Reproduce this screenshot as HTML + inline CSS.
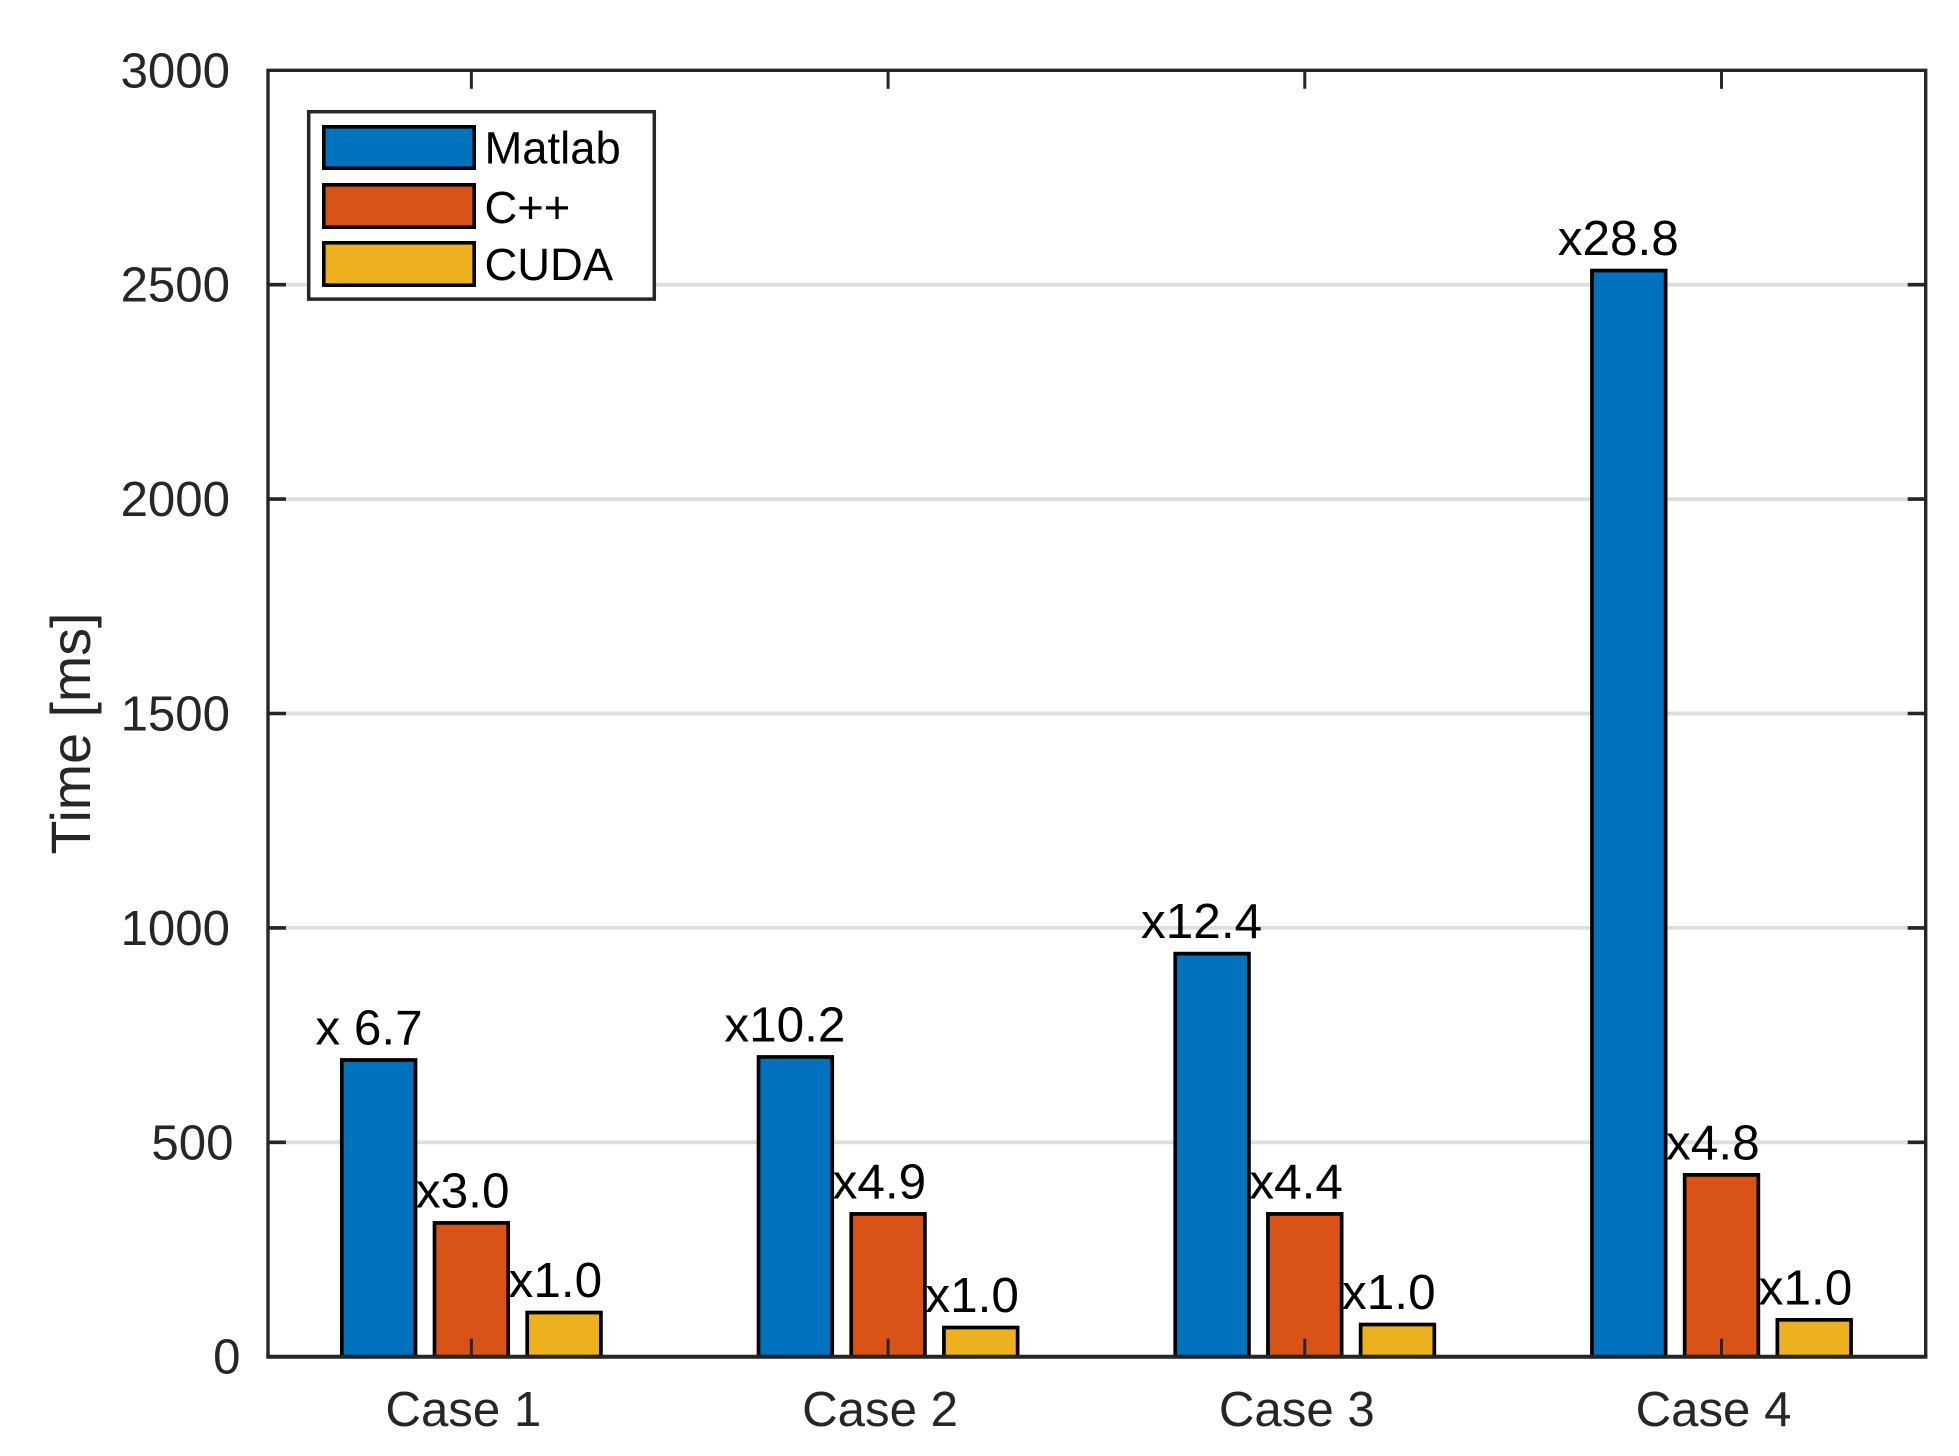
<!DOCTYPE html>
<html lang="en">
<head>
<meta charset="utf-8">
<title>Time by case</title>
<style>
html,body{margin:0;padding:0;background:#fff;}
svg{display:block;font-family:"Liberation Sans",Arial,sans-serif;}
</style>
</head>
<body>
<svg id="chart" xmlns="http://www.w3.org/2000/svg" width="1959" height="1456" viewBox="0 0 1959 1456">
  <rect x="0" y="0" width="1959" height="1456" fill="#ffffff"/>
  <g id="grid"></g>
  <g id="bars"></g>
  <g id="axes"></g>
  <g id="labels"></g>
  <text transform="translate(90 733.5) rotate(-90)" text-anchor="middle" font-size="55.6" fill="#262626">Time [ms]</text>
  <g>
    <rect x="308.7" y="111.7" width="345.6" height="187.4" fill="#ffffff" stroke="#262626" stroke-width="3.5"/>
    <rect x="323.8" y="126.8" width="150.4" height="41.4" fill="#0072BD" stroke="#000" stroke-width="3.6"/>
    <text x="484.5" y="163.3" font-size="45.4" fill="#000">Matlab</text>
    <rect x="323.8" y="184.8" width="150.4" height="42.4" fill="#D95319" stroke="#000" stroke-width="3.6"/>
    <text x="484.5" y="222.8" font-size="45.4" fill="#000">C++</text>
    <rect x="323.8" y="242.8" width="150.4" height="42.4" fill="#EDB120" stroke="#000" stroke-width="3.6"/>
    <text x="484.5" y="280" font-size="45.4" fill="#000">CUDA</text>
  </g>
</svg>
<script>
const categories = ["Case 1", "Case 2", "Case 3", "Case 4"];
const matlabValues = [692, 699, 940, 2533];
const cppValues = [312, 333, 333, 424];
const cudaValues = [103, 68, 75, 86];
const matlabLabels = ["x 6.7", "x10.2", "x12.4", "x28.8"];
const cppLabels = ["x3.0", "x4.9", "x4.4", "x4.8"];
const cudaLabels = ["x1.0", "x1.0", "x1.0", "x1.0"];
const yTicks = [0, 500, 1000, 1500, 2000, 2500, 3000];

const NS = "http://www.w3.org/2000/svg";
const plot = { left: 268, right: 1925.7, top: 70.3, bottom: 1356.7 };
const xDomain = [0.512, 4.49];
const yDomain = [0, 3000];
const ink = "#262626";

function xScale(position) {
  return plot.left + (position - xDomain[0]) / (xDomain[1] - xDomain[0]) * (plot.right - plot.left);
}
function yScale(value) {
  return plot.bottom - (value - yDomain[0]) / (yDomain[1] - yDomain[0]) * (plot.bottom - plot.top);
}
function make(parent, tag, props) {
  const el = document.createElementNS(NS, tag);
  for (const key in props) el.setAttribute(key, props[key]);
  parent.appendChild(el);
  return el;
}

const gridLayer = document.getElementById("grid");
const barLayer = document.getElementById("bars");
const axisLayer = document.getElementById("axes");
const labelLayer = document.getElementById("labels");

yTicks.forEach(function (tick) {
  if (tick === yDomain[0] || tick === yDomain[1]) return;
  const line = make(gridLayer, "line", { x1: plot.left, x2: plot.right, y1: yScale(tick), y2: yScale(tick), stroke: "#dedede", "stroke-width": 3.8 });
  
  
});

const seriesList = [
  { key: "matlab", values: matlabValues, labels: matlabLabels, color: "#0072BD", offset: -92.7 },
  { key: "cpp", values: cppValues, labels: cppLabels, color: "#D95319", offset: 0 },
  { key: "cuda", values: cudaValues, labels: cudaLabels, color: "#EDB120", offset: 92.7 }
];
const barWidth = 73.7;

seriesList.forEach(function (series) {
  series.values.forEach(function (value, i) {
    const cx = xScale(i + 1) + series.offset;
    const top = yScale(value);
    const bar = make(barLayer, "rect", { x: cx - barWidth / 2, y: top, width: barWidth, height: yScale(0) - top, fill: series.color, stroke: "#000", "stroke-width": 3.7 });
    
    

    const label = make(labelLayer, "text", { x: cx, y: top - 15.4, "font-size": 49.5, fill: "#000" });
    label.textContent = series.labels[i];
    
    
    const w = label.getComputedTextLength();
    label.setAttribute("x", cx - 2.4 - 0.567 * w);
  });
});

const frame = make(axisLayer, "path", {
  d: "M" + plot.left + " " + plot.bottom + "V" + plot.top + "H" + plot.right + "V" + plot.bottom,
  fill: "none", stroke: ink, "stroke-width": 3.4
});



const xAxisLine = make(axisLayer, "line", { x1: plot.left - 1.7, x2: plot.right + 1.7, y1: plot.bottom, y2: plot.bottom, stroke: ink, "stroke-width": 4 });



categories.forEach(function (name, i) {
  const x = xScale(i + 1);
  const bottomTick = make(axisLayer, "line", { x1: x, x2: x, y1: plot.bottom, y2: plot.bottom - 18, stroke: ink, "stroke-width": 3 });
  
  
  const topTick = make(axisLayer, "line", { x1: x, x2: x, y1: plot.top, y2: plot.top + 18.5, stroke: ink, "stroke-width": 3 });
  
  
  const text = make(axisLayer, "text", { x: x - 8, y: 1426, "text-anchor": "middle", "font-size": 49.2, fill: ink });
  text.textContent = name;
  
  
});

yTicks.forEach(function (tick) {
  const y = yScale(tick);
  if (tick !== yDomain[0] && tick !== yDomain[1]) {
    const leftTick = make(axisLayer, "line", { x1: plot.left, x2: plot.left + 18, y1: y, y2: y, stroke: ink, "stroke-width": 3.6 });
    
    
    const rightTick = make(axisLayer, "line", { x1: plot.right, x2: plot.right - 18, y1: y, y2: y, stroke: ink, "stroke-width": 3.6 });
    
    
  }
  const str = String(tick);
  const text = make(axisLayer, "text", { x: 244 - 3.5 * str.length, y: y + 17, "text-anchor": "end", "font-size": 49.2, fill: ink });
  text.textContent = str;
  
  
});
</script>
</body>
</html>
